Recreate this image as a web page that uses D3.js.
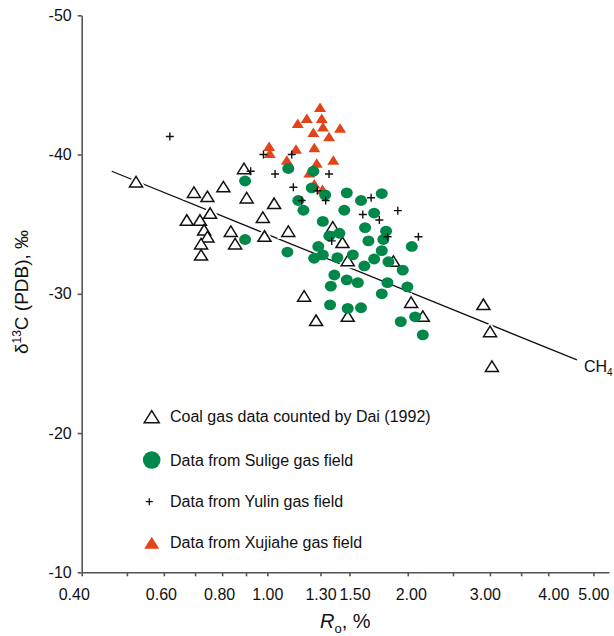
<!DOCTYPE html>
<html>
<head>
<meta charset="utf-8">
<script src="https://cdn.jsdelivr.net/npm/d3@7"></script>
<style>
  body { margin: 0; background: #fff; }
  svg { font-family: "Liberation Sans", Arial, sans-serif; }
</style>
</head>
<body>
<svg id="svg" width="614" height="636"></svg>
<script>
// coal gas data counted by Dai (1992)
var coalRo = [0.523, 0.696, 0.744, 0.805, 0.891, 0.903, 1.034, 0.754, 0.672, 0.717,
  0.978, 0.732, 0.835, 0.744, 0.986, 1.109, 0.721, 0.853, 0.721, 1.381,
  1.449, 1.487, 1.863, 1.199, 2.033, 2.905, 1.272, 1.487, 2.154, 3.002, 3.03];
var coalD13C = [-38.05, -37.3, -37.0, -37.7, -39.0, -36.9, -36.5, -35.8, -35.3, -35.3,
  -35.5, -34.6, -34.5, -34.1, -34.15, -34.5, -33.6, -33.6, -32.8, -34.8,
  -33.7, -32.4, -32.35, -29.85, -29.4, -29.25, -28.1, -28.4, -28.4, -27.3, -24.8];

// Sulige gas field
var suligeRo = [0.896, 0.896, 1.109, 1.104, 1.165, 1.195, 1.255, 1.245, 1.33, 1.48,
  1.588, 1.759, 1.462, 1.694, 1.315, 1.62, 1.797, 1.358, 1.427, 1.647,
  1.773, 2.04, 1.286, 1.315, 1.26, 1.413, 1.525, 1.759, 1.694, 1.818,
  1.614, 1.951, 1.392, 1.48, 1.563, 1.368, 1.809, 1.996, 1.759, 1.363,
  1.487, 1.588, 1.932, 2.074, 2.154];
var suligeD13C = [-38.1, -33.9, -39.0, -33.0, -36.7, -36.0, -38.8, -37.6, -37.1, -37.25,
  -36.7, -37.2, -36.0, -35.8, -35.2, -34.75, -34.5, -34.15, -34.35, -33.8,
  -33.9, -33.4, -33.4, -32.8, -32.55, -32.6, -32.8, -33.1, -32.5, -32.3,
  -32.0, -31.7, -31.35, -31.0, -30.8, -30.55, -30.8, -30.5, -30.0, -29.2,
  -28.95, -29.0, -28.0, -28.35, -27.05];

// Yulin gas field
var yulinRo = [0.618, 0.921, 0.981, 1.128, 1.039, 1.356, 1.137, 1.28, 1.185, 1.334,
  1.669, 1.602, 1.738, 1.904, 2.108, 1.81, 1.374];
var yulinD13C = [-41.3, -38.8, -40.0, -40.0, -38.6, -38.6, -37.65, -37.4, -36.7, -36.7,
  -36.9, -35.7, -35.3, -35.97, -34.1, -34.1, -33.8];

// Xujiahe gas field
var xujiaheRo = [1.297, 1.215, 1.162, 1.308, 1.316, 1.255, 1.432, 1.356, 1.009, 1.012,
  1.152, 1.261, 1.101, 1.276, 1.385, 1.23, 1.261, 1.313];
var xujiaheD13C = [-43.4, -42.6, -42.25, -42.6, -42.0, -41.6, -41.9, -41.3, -40.6, -40.1,
  -40.4, -40.5, -39.6, -39.4, -39.6, -38.7, -37.9, -37.5];

// CH4 trend line ends
var trendRo = [0.464, 4.61];
var trendD13C = [-38.8, -25.25];

var xTicks = [0.4, 0.5, 0.6, 0.7, 0.8, 0.9, 1.0, 1.3, 1.5, 2.0, 2.5, 3.0, 3.5, 4.0, 5.0];
var xTickLabels = [0.4, 0.6, 0.8, 1.0, 1.3, 1.5, 2.0, 3.0, 4.0, 5.0];
var yTicks = [-50, -40, -30, -20, -10];

var legendLabels = [
  "Coal gas data counted by Dai (1992)",
  "Data from Sulige gas field",
  "Data from Yulin gas field",
  "Data from Xujiahe gas field",
];

var svg = d3.select("#svg");
var green = "#00874a";
var red = "#e2441a";
var axisColor = "#555";

var xScale = d3.scaleLog().domain([0.4, 5.4]).range([81.7, 609]);
var yScale = d3.scaleLinear().domain([-50, -10]).range([15.3, 572.3]);

function zip(a, b) {
  return a.map(function (d, i) {
    return { x: d, y: b[i] };
  });
}

function triPath(w, h) {
  return "M0," + (-h / 2) + "L" + (w / 2) + "," + (h / 2) + "L" + (-w / 2) + "," + (h / 2) + "Z";
}

//x-axis
var fmt = d3.format(".2f");
var xAxis = svg
  .append("g")
  .attr("transform", "translate(0," + yScale(-10) + ")")
  .call(
    d3.axisBottom(xScale)
      .tickValues(xTicks)
      .tickSize(4)
      .tickSizeOuter(0)
      .tickPadding(12)
      .tickFormat(function (d) {
        return xTickLabels.indexOf(d) >= 0 ? fmt(d) : "";
      })
  );
// label nudges as in the original print
var labelShift = { 0.4: -8, 0.6: -3, 0.8: -3, 1.3: 0, 1.5: 5, 2: 3, 3: -5, 4: 5 };
xAxis.selectAll("text").attr("dx", function (d) {
  return labelShift[d] || 0;
});

//y-axis
var yAxis = svg
  .append("g")
  .attr("transform", "translate(" + xScale(0.4) + ",0)")
  .call(
    d3.axisLeft(yScale)
      .tickValues(yTicks)
      .tickSize(4)
      .tickSizeOuter(0)
      .tickPadding(6)
      .tickFormat(function (d) { return String(d); })
  );

svg.selectAll(".domain, .tick line")
  .attr("stroke", axisColor)
  .attr("stroke-width", 1.6);
svg.selectAll(".tick text")
  .attr("font-size", 16)
  .attr("font-family", "Liberation Sans, Arial, sans-serif")
  .attr("fill", "#111");

//axis titles
var yTitle = svg
  .append("text")
  .attr("transform", "translate(28,292) rotate(-90)")
  .attr("text-anchor", "middle")
  .attr("font-size", 19)
  .attr("fill", "#111");
yTitle.append("tspan").text("δ");
yTitle.append("tspan").attr("font-size", 12).attr("dy", -7).text("13");
yTitle.append("tspan").attr("dy", 7).text("C (PDB), ‰");

var xTitle = svg
  .append("text")
  .attr("x", 320)
  .attr("y", 628)
  .attr("font-size", 20)
  .attr("fill", "#111");
xTitle.append("tspan").attr("font-style", "italic").text("R");
xTitle.append("tspan").attr("font-size", 13).attr("dy", 5).text("o");
xTitle.append("tspan").attr("dy", -5).text(", %");

//CH4 line
var trend = zip(trendRo, trendD13C);
svg
  .append("path")
  .datum(trend)
  .attr("fill", "none")
  .attr("stroke", "#111")
  .attr("stroke-width", 1.3)
  .attr("d", d3.line()
    .x(function (d) { return xScale(d.x); })
    .y(function (d) { return yScale(d.y); }));

var ch4 = svg
  .append("text")
  .attr("x", 584)
  .attr("y", 372)
  .attr("font-size", 16)
  .attr("fill", "#111");
ch4.append("tspan").text("CH");
ch4.append("tspan").attr("font-size", 10).attr("dy", 4).text("4");

//coal triangles (white halo breaks the line)
var coalGrp = svg.append("g");
var coalData = zip(coalRo, coalD13C);
coalGrp
  .selectAll("path.halo")
  .data(coalData)
  .enter()
  .append("path")
  .attr("class", "halo")
  .attr("d", triPath(13, 10.5))
  .attr("transform", function (d) { return "translate(" + xScale(d.x) + "," + yScale(d.y) + ")"; })
  .attr("fill", "#fff")
  .attr("stroke", "#fff")
  .attr("stroke-width", 5);
coalGrp
  .selectAll("path.tri")
  .data(coalData)
  .enter()
  .append("path")
  .attr("class", "tri")
  .attr("d", triPath(13, 10.5))
  .attr("transform", function (d) { return "translate(" + xScale(d.x) + "," + yScale(d.y) + ")"; })
  .attr("fill", "#fff")
  .attr("stroke", "#111")
  .attr("stroke-width", 1.5)
  .attr("stroke-linejoin", "miter");

//Xujiahe
svg
  .append("g")
  .selectAll("path")
  .data(zip(xujiaheRo, xujiaheD13C))
  .enter()
  .append("path")
  .attr("d", triPath(12, 9.5))
  .attr("transform", function (d) { return "translate(" + xScale(d.x) + "," + yScale(d.y) + ")"; })
  .attr("fill", red);

//Sulige
svg
  .append("g")
  .selectAll("ellipse")
  .data(zip(suligeRo, suligeD13C))
  .enter()
  .append("ellipse")
  .attr("cx", function (d) { return xScale(d.x); })
  .attr("cy", function (d) { return yScale(d.y); })
  .attr("rx", 6)
  .attr("ry", 5.4)
  .attr("fill", green);

//Yulin
svg
  .append("g")
  .selectAll("path")
  .data(zip(yulinRo, yulinD13C))
  .enter()
  .append("path")
  .attr("d", "M-4,0H4M0,-4V4")
  .attr("transform", function (d) { return "translate(" + xScale(d.x) + "," + yScale(d.y) + ")"; })
  .attr("stroke", "#111")
  .attr("stroke-width", 1.4);

//legend
var legendY = [416.7, 460, 501.7, 542.7];
var lg = svg.append("g");
lg.append("path")
  .attr("d", triPath(15, 12))
  .attr("transform", "translate(151.7," + legendY[0] + ")")
  .attr("fill", "#fff")
  .attr("stroke", "#111")
  .attr("stroke-width", 1.5);
lg.append("circle")
  .attr("cx", 151.7)
  .attr("cy", legendY[1])
  .attr("r", 8.8)
  .attr("fill", green);
lg.append("path")
  .attr("d", "M-3.5,0H3.5M0,-3.5V3.5")
  .attr("transform", "translate(149.3," + legendY[2] + ")")
  .attr("stroke", "#111")
  .attr("stroke-width", 1.3);
lg.append("path")
  .attr("d", triPath(15, 12))
  .attr("transform", "translate(151.7," + legendY[3] + ")")
  .attr("fill", red);
lg.selectAll("text")
  .data(legendLabels)
  .enter()
  .append("text")
  .attr("x", 170)
  .attr("y", function (d, i) { return legendY[i]; })
  .attr("dy", "0.36em")
  .attr("font-size", 16)
  .attr("fill", "#111")
  .text(function (d) { return d; });
</script>
</body>
</html>
